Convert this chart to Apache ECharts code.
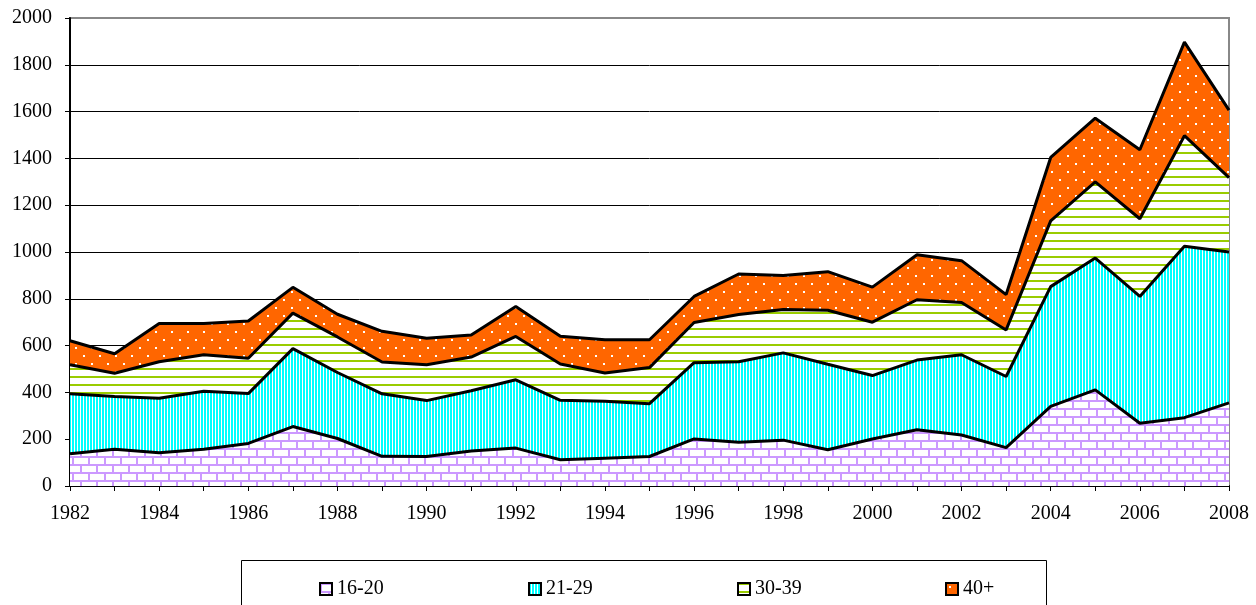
<!DOCTYPE html>
<html>
<head>
<meta charset="utf-8">
<script src="https://cdn.jsdelivr.net/npm/echarts@6/dist/echarts.min.js"></script>
<style>
    html, body { margin: 0; padding: 0; background: #fff; }
    #chart { width: 1256px; height: 605px; }
</style>
</head>
<body>
<div id="chart"></div>
<script>
var years = ['1982','1983','1984','1985','1986','1987','1988','1989','1990','1991','1992','1993','1994',
    '1995','1996','1997','1998','1999','2000','2001','2002','2003','2004','2005','2006','2007','2008'];
var seriesNames = ['16-20', '21-29', '30-39', '40+'];
var age16to20 = [138,157,142,157,182,254,203,127,126,150,162,112,119,126,201,187,196,155,201,240,218,164,340,411,268,292,355];
var age21to29 = [256,226,233,248,213,333,282,267,239,257,292,254,243,226,326,344,373,365,271,298,343,304,512,563,542,733,645];
var age30to39 = [124,99,156,156,151,152,152,136,153,144,185,155,121,154,172,202,185,231,228,258,223,199,281,326,332,472,318];
var age40plus = [103,83,163,133,159,110,97,131,113,94,128,119,142,119,111,173,146,165,150,192,179,151,271,272,295,400,288];
var yTicks = { min: 0, max: 2000, step: 200 };

var FONT = '"Liberation Serif", "Times New Roman", serif';

// fill patterns, drawn on small canvases
function makeTile(w, h, draw) {
    var c = document.createElement('canvas');
    c.width = w;
    c.height = h;
    draw(c.getContext('2d'));
    return { image: c, repeat: 'repeat' };
}

var brick = makeTile(16, 16, function (g) {
    g.fillStyle = '#fff';
    g.fillRect(0, 0, 16, 16);
    g.fillStyle = '#cc99ff';
    g.fillRect(0, 0, 16, 2);
    g.fillRect(0, 8, 16, 2);
    g.fillRect(0, 0, 2, 8);
    g.fillRect(8, 8, 2, 8);
});
var stripes = makeTile(3, 4, function (g) {
    g.fillStyle = '#00ffff';
    g.fillRect(0, 0, 3, 4);
    g.fillStyle = '#fff';
    g.fillRect(2, 0, 1, 4);
});
var hlines = makeTile(4, 8, function (g) {
    g.fillStyle = '#fff';
    g.fillRect(0, 0, 4, 8);
    g.fillStyle = '#99cc00';
    g.fillRect(0, 0, 4, 2);
});
var dots = makeTile(16, 16, function (g) {
    g.fillStyle = '#ff6600';
    g.fillRect(0, 0, 16, 16);
    g.fillStyle = '#fff';
    g.fillRect(3, 3, 2, 2);
    g.fillRect(11, 11, 2, 2);
});

var fills = [brick, stripes, hlines, dots];
var values = [age16to20, age21to29, age30to39, age40plus];
var legendLeft = [314, 523, 732, 940];

var splitColors = [];
for (var v = yTicks.min; v <= yTicks.max; v += yTicks.step) {
    splitColors.push(v === yTicks.max ? '#888' : '#000');
}

var option = {
    animation: false,
    backgroundColor: '#fff',
    grid: {
        left: 70, right: 27, top: 18, bottom: 119,
        show: true, borderColor: '#888', borderWidth: 2
    },
    graphic: [{
        type: 'rect',
        z: 0,
        shape: { x: 241.5, y: 560.5, width: 805, height: 60 },
        style: { fill: 'none', stroke: '#000', lineWidth: 1 }
    }],
    legend: seriesNames.map(function (name, i) {
        return {
            data: [{ name: name, itemStyle: { color: fills[i] } }],
            left: legendLeft[i],
            top: 574,
            icon: 'rect',
            itemWidth: 12,
            itemHeight: 12,
            itemStyle: { borderColor: '#000', borderWidth: 2 },
            textStyle: { fontFamily: FONT, fontSize: 20, color: '#000' },
            selectedMode: false
        };
    }),
    xAxis: {
        type: 'category',
        data: years,
        boundaryGap: false,
        axisLine: { lineStyle: { color: '#000', width: 2 } },
        axisTick: { interval: 0, length: 5, lineStyle: { color: '#000' } },
        axisLabel: { interval: 1, margin: 18, fontFamily: FONT, fontSize: 20, color: '#000' },
        splitLine: { show: false }
    },
    yAxis: {
        type: 'value',
        min: yTicks.min,
        max: yTicks.max,
        interval: yTicks.step,
        axisLine: { show: true, lineStyle: { color: '#000', width: 2 } },
        axisTick: { show: true, length: 5, lineStyle: { color: '#000' } },
        axisLabel: {
            margin: 18, fontFamily: FONT, fontSize: 20, color: '#000',
            formatter: function (val) { return String(val); }
        },
        splitLine: { show: true, lineStyle: { color: splitColors, width: 1 } }
    },
    series: seriesNames.map(function (name, i) {
        return {
            name: name,
            type: 'line',
            stack: 'total',
            data: values[i],
            z: 10 - i,
            symbol: 'none',
            showSymbol: false,
            itemStyle: { color: fills[i] },
            lineStyle: { color: '#000', width: 3 },
            areaStyle: { color: fills[i], opacity: 1 }
        };
    })
};

var chart = echarts.init(document.getElementById('chart'));
chart.setOption(option);
</script>
</body>
</html>
